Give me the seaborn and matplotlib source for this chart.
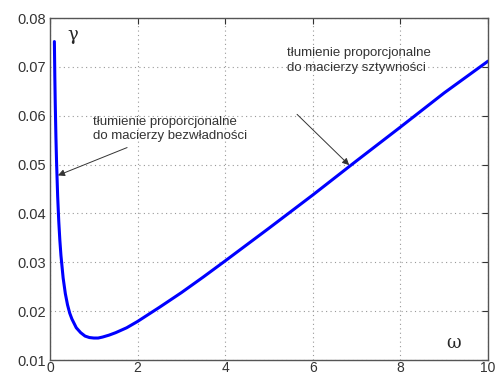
import matplotlib
matplotlib.use('Agg')
import matplotlib.pyplot as plt
import seaborn as sns
import pandas as pd

# values
omega = [0.1, 0.11, 0.12, 0.135, 0.15, 0.175, 0.2, 0.225, 0.25, 0.3, 0.35, 0.4, 0.45, 0.5,
         0.6, 0.7, 0.8, 0.9, 1.0, 1.1, 1.2, 1.35, 1.5, 1.75, 2.0, 2.5, 3.0, 3.5, 4.0,
         5.0, 6.0, 7.0, 8.0, 9.0, 10.0]
gamma = [0.0752, 0.0680, 0.0625, 0.0558, 0.0504, 0.0435, 0.0384, 0.0345, 0.0314, 0.0268,
         0.0236, 0.0213, 0.0196, 0.0184, 0.0166, 0.0156, 0.0149, 0.0146, 0.0145, 0.0145,
         0.0147, 0.0151, 0.0156, 0.0166, 0.0179, 0.0208, 0.0238, 0.0270, 0.0303,
         0.0370, 0.0438, 0.0508, 0.0577, 0.0647, 0.0712]
xticks = [0, 2, 4, 6, 8, 10]
yticks = [0.01, 0.02, 0.03, 0.04, 0.05, 0.06, 0.07, 0.08]

df = pd.DataFrame({'omega': omega, 'gamma': gamma})

sns.set_style('white')
plt.rcParams['font.family'] = ['Liberation Sans', 'DejaVu Sans']

fig = plt.figure(figsize=(4.97, 3.78), dpi=100)
ax = fig.add_axes([0.1006, 0.0476, 0.8814, 0.9044])

sns.lineplot(data=df, x='omega', y='gamma', ax=ax, color='#0000ff', linewidth=2.2)

ax.set_xlim(0, 10)
ax.set_ylim(0.01, 0.08)
ax.set_xticks(xticks)
ax.set_yticks(yticks)
ax.set_xticklabels([str(t) for t in xticks])
ax.set_yticklabels([f'{t:.2f}' for t in yticks])
ax.set_xlabel('')
ax.set_ylabel('')
ax.grid(True, linestyle=(0, (1, 3)), color='#999999', linewidth=0.8)
ax.tick_params(direction='in', length=4, top=True, right=True, labelsize=10.5,
               colors='#333333', pad=3)
ax.tick_params(axis='x', pad=1, labelsize=10)
for s in ax.spines.values():
    s.set_color('#555555')
    s.set_linewidth(1)

ax.text(0.4, 0.0765, 'γ', fontsize=13, family='DejaVu Serif', va='center')
ax.text(9.05, 0.0134, 'ω', fontsize=13, family='DejaVu Serif', va='center')

arrow = dict(arrowstyle='-|>', color='#333333', lw=0.7, mutation_scale=10,
             shrinkA=0, shrinkB=0)
ax.text(0.98, 0.0573, 'tłumienie proporcjonalne\ndo macierzy bezwładności',
        fontsize=9.5, color='#333333', va='center', linespacing=1.3)
ax.annotate('', xy=(0.18, 0.0478), xytext=(1.76, 0.0535), arrowprops=arrow)
ax.text(5.4, 0.0713, 'tłumienie proporcjonalne\ndo macierzy sztywności',
        fontsize=9.5, color='#333333', va='center', linespacing=1.3)
ax.annotate('', xy=(6.83, 0.0499), xytext=(5.64, 0.0603), arrowprops=arrow)

fig.savefig('out.png', dpi=100)
